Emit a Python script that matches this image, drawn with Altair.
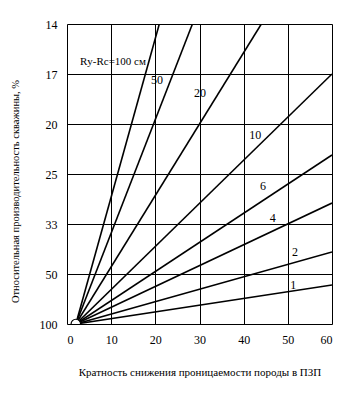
import altair as alt
import pandas as pd

# Each curve: label, start point, end point (x = кратность, n = 100 / производительность%)
curve_labels = ["100", "50", "20", "10", "6", "4", "2", "1"]
x_start = [2, 2, 2, 2, 2, 2, 2, 2]
n_start = [1, 1, 1, 1, 1, 1, 1, 1]
x_end = [20.9, 28.4, 44.0, 60, 60, 60, 60, 60]
n_end = [7, 7, 7, 6.0, 4.38, 3.42, 2.44, 1.78]

# curve labels placed on the chart
label_text = ["50", "20", "10", "6", "4", "2", "1"]
label_x = [20.4, 30.1, 42.6, 44.4, 46.6, 51.6, 51.2]
label_n = [5.88, 5.62, 4.78, 3.76, 3.12, 2.44, 1.78]

note_text = ["Rу-Rс=100 см"]
note_x = [10.4]
note_n = [6.24]

x_ticks = [0, 10, 20, 30, 40, 50, 60]
y_ticks = [1, 2, 3, 4, 5, 6, 7]  # labelled 100, 50, 33, 25, 20, 17, 14 %

rows = []
for lab, xs, ns, xe, ne in zip(curve_labels, x_start, n_start, x_end, n_end):
    rows.append({"curve": lab, "x": xs, "n": ns, "o": 0})
    rows.append({"curve": lab, "x": xe, "n": ne, "o": 1})
lines_df = pd.DataFrame(rows)
labels_df = pd.DataFrame({"t": label_text, "x": label_x, "n": label_n})
note_df = pd.DataFrame({"t": note_text, "x": note_x, "n": note_n})
apex_df = pd.DataFrame({"x": [x_start[0]], "n": [n_start[0]]})

FONT = "Liberation Serif"

xscale = alt.Scale(domain=[0, 60], nice=False, zero=False)
yscale = alt.Scale(domain=[1, 7], nice=False, zero=False)

xaxis = alt.Axis(
    values=x_ticks, title="Кратность снижения проницаемости породы в ПЗП",
    grid=True, gridColor="black", gridWidth=1, gridOpacity=1,
    ticks=False, domain=False, labelPadding=10, labelFontSize=12,
    labelFont=FONT, labelColor="black", titleFont=FONT, titleFontSize=11,
    titleFontWeight="normal", titleColor="black", titlePadding=21,
)
yaxis = alt.Axis(
    values=y_ticks, title="Относительная производительность скважины, %",
    labelExpr="round(100 / datum.value)",
    grid=True, gridColor="black", gridWidth=1, gridOpacity=1,
    ticks=False, domain=False, labelPadding=10, labelFontSize=12,
    labelFont=FONT, labelColor="black", titleFont=FONT, titleFontSize=10.5,
    titleFontWeight="normal", titleColor="black",
    titleX=-52, titleY=167, titleBaseline="middle", titleAngle=270,
)

lines = alt.Chart(lines_df).mark_line(color="black", strokeWidth=1.6, clip=True).encode(
    x=alt.X("x:Q", scale=xscale, axis=xaxis),
    y=alt.Y("n:Q", scale=yscale, axis=yaxis),
    detail="curve:N",
    order="o:Q",
)

apex = alt.Chart(apex_df).mark_point(
    shape="circle", size=90, filled=True, fill="white", stroke="black",
    strokeWidth=1.2, opacity=1, clip=True,
).encode(x=alt.X("x:Q", scale=xscale), y=alt.Y("n:Q", scale=yscale))

labels = alt.Chart(labels_df).mark_text(
    font=FONT, fontSize=12, fill="black", align="center", baseline="middle"
).encode(x=alt.X("x:Q", scale=xscale), y=alt.Y("n:Q", scale=yscale), text="t:N",
         color=alt.value("black"))

note = alt.Chart(note_df).mark_text(
    font=FONT, fontSize=11, fill="black", align="center", baseline="middle"
).encode(x=alt.X("x:Q", scale=xscale), y=alt.Y("n:Q", scale=yscale), text="t:N",
         color=alt.value("black"))

chart = alt.layer(lines, apex, labels, note).properties(
    width=265, height=300,
    autosize=alt.AutoSizeParams(type="none"),
    padding={"left": 59, "top": 16, "right": 20, "bottom": 60},
).configure_view(stroke="black", strokeWidth=1.6).configure(background="white")

chart.save("out.html", embed_options={"renderer": "svg", "actions": False})
